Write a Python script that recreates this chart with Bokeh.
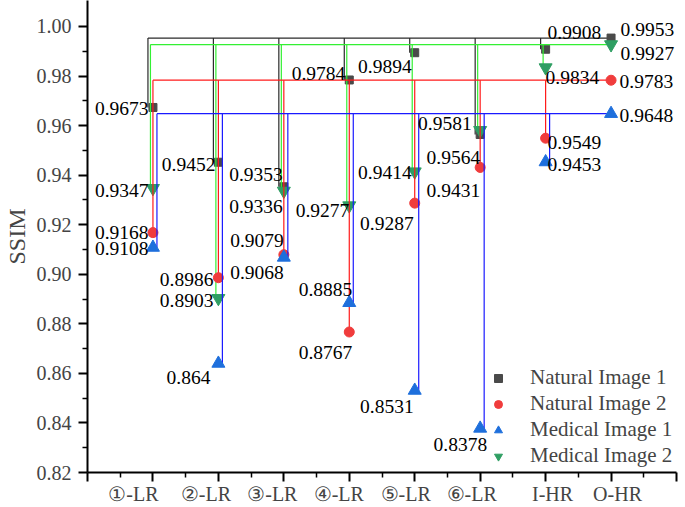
from bokeh.plotting import figure
from bokeh.models import (FixedTicker, LinearAxis, Range1d, NumeralTickFormatter,
                          Legend, LegendItem, ColumnDataSource)
from bokeh.core.properties import value
from bokeh.embed import file_html
from bokeh.resources import INLINE

# ---------------- data ----------------
categories = ["①-LR", "②-LR", "③-LR", "④-LR", "⑤-LR", "⑥-LR", "I-HR", "O-HR"]
natural1 = [0.9673, 0.9452, 0.9353, 0.9784, 0.9894, 0.9564, 0.9908, 0.9953]
natural2 = [0.9168, 0.8986, 0.9079, 0.8767, 0.9287, 0.9431, 0.9549, 0.9783]
medical1 = [0.9108, 0.864, 0.9068, 0.8885, 0.8531, 0.8378, 0.9453, 0.9648]
medical2 = [0.9347, 0.8903, 0.9336, 0.9277, 0.9414, 0.9581, 0.9834, 0.9927]
series_names = ["Natural Image 1", "Natural Image 2", "Medical Image 1", "Medical Image 2"]
y_ticks = [0.82, 0.84, 0.86, 0.88, 0.90, 0.92, 0.94, 0.96, 0.98, 1.00]
y_minor = [0.83, 0.85, 0.87, 0.89, 0.91, 0.93, 0.95, 0.97, 0.99]

# ---------------- styles ----------------
FONT = "Liberation Serif"
marker_kind = ["square", "circle", "triangle", "inverted_triangle"]
marker_color = ["#4a4a4a", "#f03c3c", "#1e6fdc", "#2e9e62"]
marker_size = [8, 10, 13, 13]
line_color = ["#2a2a2a", "#ff1a1a", "#1a1aff", "#33f033"]
line_shift_px = [-5, 0, 4, -2.5]
draw_order = [0, 3, 1, 2]

# label placement (pixels): dx, dy (down positive)
label_dx = [
    [-4.4, -3, -1, -4, -3, 0, 2, 9.5],
    [-4.4, -5, 0, 3, -1, 0, 2, 8.5],
    [-4.4, -8, 0, 3, -1, 7, 2, 8.5],
    [-4.4, -5, -1, 0, -3, -8.5, 0, 9.5],
]
label_dy = [
    [1, 2, -12, -6, 14, 23, -17, -9],
    [0, 2, -14, 21, 20, 23, 4, 1],
    [1.5, 14, 15, -13, 16, 16, 3, 2],
    [2, 2, 16, 5, 1, -7, 10, 9],
]
label_align = ["right"] * 6 + ["left"] * 2
# x tick label shifts (pixels) relative to tick
xlabel_shift_px = [-19.5, -12.5, -11.5, -10.5, -9, -8.5, 7, 6.5]

series = [natural1, natural2, medical1, medical2]
xs = list(range(1, len(categories) + 1))

X_END = len(categories) + 1
W, H = 685, 507
ML, MR, MB, MT = 87, 9, 34, 0
frame_w = W - ML - MR
frame_h = H - MB - MT
px_per_x = frame_w / X_END
TOP_GAP_PX = 26
px_per_y = (frame_h - TOP_GAP_PX) / (y_ticks[-1] - y_ticks[0])
y_end = y_ticks[-1] + TOP_GAP_PX / px_per_y

p = figure(width=W, height=H, output_backend="svg", toolbar_location=None,
           x_range=Range1d(0, X_END), y_range=Range1d(y_ticks[0], y_end),
           min_border_left=ML, min_border_right=MR, min_border_top=MT,
           min_border_bottom=MB, background_fill_color="white",
           border_fill_color="white")
p.outline_line_color = None
p.grid.visible = False

renderers = {}
for i in draw_order:
    vals = series[i]
    off = line_shift_px[i] / px_per_x
    top = vals[-1]
    lx = [x + off for x in xs[:-1]]
    p.segment(x0=lx, y0=[top] * len(lx), x1=lx, y1=vals[:-1],
              line_color=line_color[i], line_width=1.2)
    p.segment(x0=[lx[0]], y0=[top], x1=[xs[-1]], y1=[top],
              line_color=line_color[i], line_width=1.2)
    r = p.scatter(x=xs, y=vals, marker=marker_kind[i], size=marker_size[i],
                  fill_color=marker_color[i], line_color=marker_color[i])
    renderers[i] = r

for i, vals in enumerate(series):
    src = ColumnDataSource(dict(x=xs, y=vals, t=[str(v) for v in vals],
                                dx=label_dx[i], dy=label_dy[i], al=label_align))
    p.text(x="x", y="y", text="t", x_offset="dx", y_offset="dy", text_align="al",
           text_baseline="middle", text_font=value(FONT), text_font_size="19.5px",
           text_color="black", source=src)

# y axis
ya = p.yaxis[0]
ya.ticker = FixedTicker(ticks=y_ticks, minor_ticks=y_minor)
ya.formatter = NumeralTickFormatter(format="0.00")
ya.axis_label = "SSIM"
ya.axis_label_text_font = FONT
ya.axis_label_text_font_size = "24px"
ya.axis_label_text_font_style = "normal"
ya.axis_label_standoff = 4
ya.major_label_text_font = FONT
ya.major_label_text_font_size = "20px"
ya.major_label_standoff = 7
ya.major_tick_out = 9
ya.major_tick_in = 0
ya.minor_tick_out = 5
ya.minor_tick_in = 0
ya.axis_line_width = 2
ya.major_tick_line_width = 2
ya.minor_tick_line_width = 1.5

# x axis: tick marks only
xa = p.xaxis[0]
xa.ticker = FixedTicker(ticks=list(range(0, X_END + 1)),
                        minor_ticks=[k + 0.5 for k in range(0, X_END)])
xa.major_label_text_color = None
xa.major_label_text_font_size = "0px"
xa.major_label_standoff = 0
xa.major_tick_out = 9
xa.major_tick_in = 0
xa.minor_tick_out = 5
xa.minor_tick_in = 0
xa.axis_line_width = 2
xa.major_tick_line_width = 2
xa.minor_tick_line_width = 1.5

# x axis: category labels (shifted like the original)
lab_pos = [round(x + s / px_per_x, 4) for x, s in zip(xs, xlabel_shift_px)]
xl = LinearAxis(ticker=FixedTicker(ticks=lab_pos, minor_ticks=[]),
                major_label_overrides={pos: c for pos, c in zip(lab_pos, categories)})
xl.axis_line_color = None
xl.major_tick_line_color = None
xl.minor_tick_line_color = None
xl.major_tick_out = 0
xl.major_tick_in = 0
xl.major_label_standoff = 1
xl.major_label_text_font = FONT
xl.major_label_text_font_size = "20px"
p.add_layout(xl, "below")

legend = Legend(items=[LegendItem(label=series_names[i], renderers=[renderers[i]])
                       for i in range(4)],
                location=(401, 4), glyph_width=20, glyph_height=20, label_height=20,
                label_standoff=22, spacing=1, padding=0, margin=0,
                label_text_font=FONT, label_text_font_size="21px",
                border_line_color=None, background_fill_alpha=0)
p.add_layout(legend)

open("out.html", "w").write(file_html(p, INLINE))
